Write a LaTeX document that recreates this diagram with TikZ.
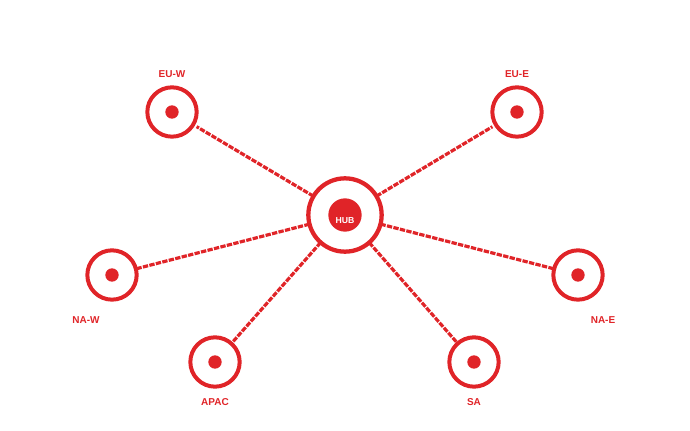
\documentclass[tikz,border=0pt]{standalone}
\usepackage{fontspec}
\setmainfont{Liberation Sans}
\definecolor{netred}{HTML}{E02428}
\begin{document}
\begin{tikzpicture}[x=0.75pt,y=-0.75pt,
  sat/.style={circle,draw=netred,line width=3pt,fill=white,minimum size=37pt,inner sep=0pt,outer sep=0pt},
  hubc/.style={circle,draw=netred,line width=3.2pt,fill=white,minimum size=55pt,inner sep=0pt,outer sep=0pt},
  dotc/.style={circle,fill=netred,minimum size=10pt,inner sep=0pt},
  hubdot/.style={circle,fill=netred,minimum size=25pt,inner sep=0pt},
  lbl/.style={text=netred,font=\fontsize{7.5}{9}\selectfont\bfseries},
  link/.style={netred,line width=2.4pt,dash pattern=on 4pt off 1pt}]
\useasboundingbox (0,0) rectangle (690,431);
\node[hubc] (hub) at (345,215) {};
\node[hubdot] (hubd) at (345,215) {};
\node[text=white,font=\fontsize{6.5}{8}\selectfont\bfseries] (hubt) at (345,221) {HUB};
\node[sat] (euw) at (172,112) {};
\node[sat] (eue) at (517,112) {};
\node[sat] (naw) at (112,275) {};
\node[sat] (nae) at (578,275) {};
\node[sat] (apac) at (215,362) {};
\node[sat] (sa) at (474,362) {};
\foreach \n in {euw,eue,naw,nae,apac,sa} {
  \node[dotc] (\n d) at (\n) {};
}
\draw[link,shorten >=3pt] (hub) -- (euw);
\draw[link,shorten >=3pt] (hub) -- (eue);
\draw[link] (hub) -- (naw);
\draw[link] (hub) -- (nae);
\draw[link] (hub) -- (apac);
\draw[link] (hub) -- (sa);
\node[lbl] (euwl) at (172,74) {EU-W};
\node[lbl] (euel) at (517,74) {EU-E};
\node[lbl] (nawl) at (86,320) {NA-W};
\node[lbl] (nael) at (603,320) {NA-E};
\node[lbl] (apacl) at (215,402) {APAC};
\node[lbl] (sal) at (474,402) {SA};
\end{tikzpicture}
\end{document}
